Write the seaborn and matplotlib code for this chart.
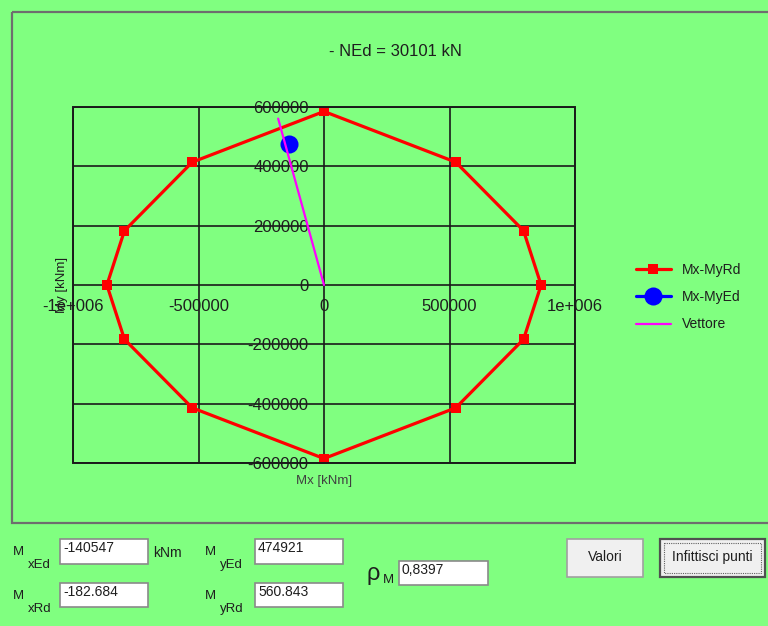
import matplotlib
matplotlib.use("Agg")
import matplotlib.pyplot as plt
from matplotlib.patches import Rectangle
from matplotlib.ticker import FuncFormatter, FixedLocator
import seaborn as sns

# interaction domain Mx-My (kNm), N = 30101 kN
mx_rd = [0, 525000, 795000, 865000, 795000, 525000, 0,
         -525000, -795000, -865000, -795000, -525000, 0]
my_rd = [585000, 414000, 183000, 0, -183000, -414000, -585000,
         -414000, -183000, 0, 183000, 414000, 585000]

# design point
mx_ed = [-140547]
my_ed = [474921]

# vector from origin to the domain boundary
vec_x = [0, -182684]
vec_y = [0, 560843]

ned = 30101
rho_m = "0,8397"
box_vals = {"MxEd": "-140547", "MxRd": "-182.684", "MyEd": "474921", "MyRd": "560.843"}

x_ticks = [-1000000, -500000, 0, 500000, 1000000]
y_ticks = [-600000, -400000, -200000, 0, 200000, 400000, 600000]

bg = "#80FF80"
sns.set_theme(style="white")
plt.rcParams["font.family"] = ["Liberation Sans", "DejaVu Sans"]

fig = plt.figure(figsize=(7.68, 6.26), dpi=100)
fig.patch.set_facecolor(bg)

# background layer in pixel coordinates for the form widgets
bgax = fig.add_axes([0, 0, 1, 1], zorder=-1)
bgax.set_xlim(0, 768)
bgax.set_ylim(626, 0)
bgax.axis("off")
bgax.add_patch(Rectangle((12, 12), 800, 511, fill=False, ec="#6e6e6e", lw=1.6))

ax = fig.add_axes([73 / 768, 1 - 463 / 626, 502 / 768, 356 / 626])
ax.set_facecolor(bg)

sns.lineplot(x=mx_rd, y=my_rd, sort=False, estimator=None, ax=ax, color="#FF0000",
             lw=2.3, marker="s", markersize=7, markeredgewidth=0, label="Mx-MyRd")
sns.lineplot(x=mx_ed, y=my_ed, sort=False, estimator=None, ax=ax, color="#0000FF",
             lw=2.3, marker="o", markersize=13, markeredgewidth=0, label="Mx-MyEd")
sns.lineplot(x=vec_x, y=vec_y, sort=False, estimator=None, ax=ax, color="#FF00FF",
             lw=1.6, label="Vettore")

ax.set_xlim(-1000000, 1000000)
ax.set_ylim(-600000, 600000)
ax.xaxis.set_major_locator(FixedLocator(x_ticks))
ax.yaxis.set_major_locator(FixedLocator(y_ticks))
fmt = FuncFormatter(lambda v, p: ("%g" % v).replace("e+0", "e+00"))
ax.xaxis.set_major_formatter(fmt)
ax.yaxis.set_major_formatter(fmt)
ax.grid(True, color="#1a1a1a", lw=1.2)
ax.set_axisbelow(True)

for s in ["left", "bottom"]:
    ax.spines[s].set_position("zero")
    ax.spines[s].set_visible(False)
for s in ["top", "right"]:
    ax.spines[s].set_visible(False)
ax.add_patch(Rectangle((0, 0), 1, 1, transform=ax.transAxes, fill=False,
                       ec="#1a1a1a", lw=1.4, clip_on=False, zorder=3))

ax.tick_params(axis="y", length=0, pad=11, labelsize=12, labelcolor="#1e1e1e")
ax.tick_params(axis="x", length=0, pad=10, labelsize=12, labelcolor="#1e1e1e")

ax.set_xlabel("Mx [kNm]", fontsize=9.5, color="#404040")
ax.xaxis.set_label_coords(0.5, -0.035)
ax.set_ylabel("My [kNm]", fontsize=9.5, color="#1e1e1e")
ax.yaxis.set_label_coords(-0.01, 0.5)

fig.text(395 / 768, 1 - 52 / 626, f"- NEd = {ned} kN", ha="center", va="center",
         fontsize=12, color="#1e1e1e")

ax.legend(loc="upper left", bbox_to_anchor=(636 / 768, 1 - 263 / 626),
          bbox_transform=fig.transFigure, frameon=False, fontsize=10,
          handlelength=2.5, handletextpad=0.8, labelspacing=0.95,
          borderpad=0, borderaxespad=0, labelcolor="#1e1e1e")

# input / output boxes under the chart
def label(x, y, sub):
    bgax.text(x, y, "M", fontsize=9.5, color="#1e1e1e", va="center")
    bgax.text(x + 15, y + 13, sub, fontsize=9.5, color="#1e1e1e", va="center")

def box(x, y, w, h, txt):
    bgax.add_patch(Rectangle((x, y), w, h, fc="white", ec="#8a8a8a", lw=1.2))
    bgax.text(x + 3, y + 9, txt, fontsize=10, color="#1e1e1e", va="center")

label(13, 552, "xEd")
label(13, 596, "xRd")
label(205, 552, "yEd")
label(205, 596, "yRd")
box(60, 539, 88, 25, box_vals["MxEd"])
box(60, 583, 88, 24, box_vals["MxRd"])
box(255, 539, 88, 25, box_vals["MyEd"])
box(255, 583, 88, 24, box_vals["MyRd"])
bgax.text(153, 553, "kNm", fontsize=10, color="#1e1e1e", va="center")
bgax.text(367, 574, "ρ", fontsize=17, color="#1e1e1e", va="center")
bgax.text(383, 580, "M", fontsize=9.5, color="#1e1e1e", va="center")
box(399, 561, 89, 24, rho_m)

# buttons
bgax.add_patch(Rectangle((567, 539), 76, 38, fc="#f0f0f0", ec="#a0a0a0", lw=1.2))
bgax.text(605, 557, "Valori", fontsize=10, color="#1e1e1e", ha="center", va="center")
bgax.add_patch(Rectangle((660, 539), 105, 38, fc="#f0f0f0", ec="#505050", lw=1.6))
bgax.add_patch(Rectangle((664, 543), 97, 30, fill=False, ec="#606060", lw=0.8, ls=(0, (1, 1))))
bgax.text(712, 557, "Infittisci punti", fontsize=10, color="#1e1e1e", ha="center", va="center")

fig.savefig("out.png", dpi=100, facecolor=bg)
